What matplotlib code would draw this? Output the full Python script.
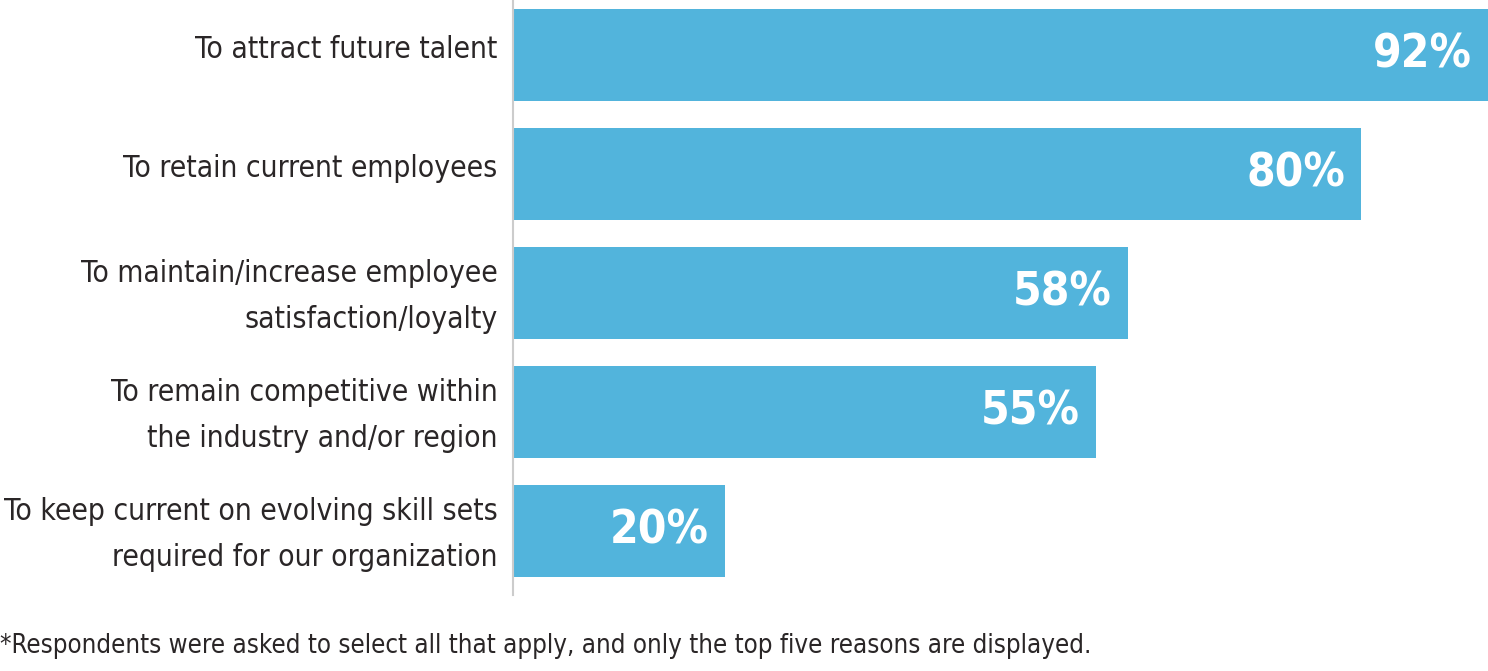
import matplotlib
matplotlib.use("Agg")
import matplotlib.pyplot as plt
from matplotlib.transforms import ScaledTranslation

categories = [
    "To attract future talent",
    "To retain current employees",
    "To maintain/increase employee\nsatisfaction/loyalty",
    "To remain competitive within\nthe industry and/or region",
    "To keep current on evolving skill sets\nrequired for our organization",
]
values = [92, 80, 58, 55, 20]
value_labels = ["92%", "80%", "58%", "55%", "20%"]
footnote = "*Respondents were asked to select all that apply, and only the top five reasons are displayed."

fam = ["DejaVu Sans"]

fig = plt.figure(figsize=(14.88, 6.71), dpi=100)
ax = fig.add_axes([513 / 1488, 76 / 671, 975 / 1488, 595 / 671])

ypos = list(range(len(categories)))
bars = ax.barh(ypos, values, height=0.775, color="#52B4DC")
ax.set_xlim(0, 92)
ax.set_ylim(4.54, -0.46)

for sp in ["top", "right", "bottom"]:
    ax.spines[sp].set_visible(False)
ax.spines["left"].set_color("#cccccc")
ax.spines["left"].set_linewidth(1.5)
ax.set_xticks([])
ax.set_yticks(ypos)
ax.set_yticklabels(categories, family=fam, fontsize=21.5, color="#2a2627",
                   linespacing=1.75, fontstretch="condensed")
ax.tick_params(axis="y", length=0, pad=11)
shift = ScaledTranslation(0, 8 / 100, fig.dpi_scale_trans)
for t in ax.get_yticklabels():
    t.set_transform(t.get_transform() + shift)

for b, lab in zip(bars, value_labels):
    ax.annotate(lab, (b.get_width(), b.get_y() + b.get_height() / 2),
                xytext=(-16, 0), textcoords="offset pixels",
                ha="right", va="center", color="white", fontsize=33,
                fontweight="bold", family=fam, fontstretch="condensed")

fig.text(0.0, 12 / 671, footnote, family=fam, fontsize=18.5, color="#2a2627",
         ha="left", va="bottom", fontstretch="condensed")

fig.savefig("out.png", dpi=100)
